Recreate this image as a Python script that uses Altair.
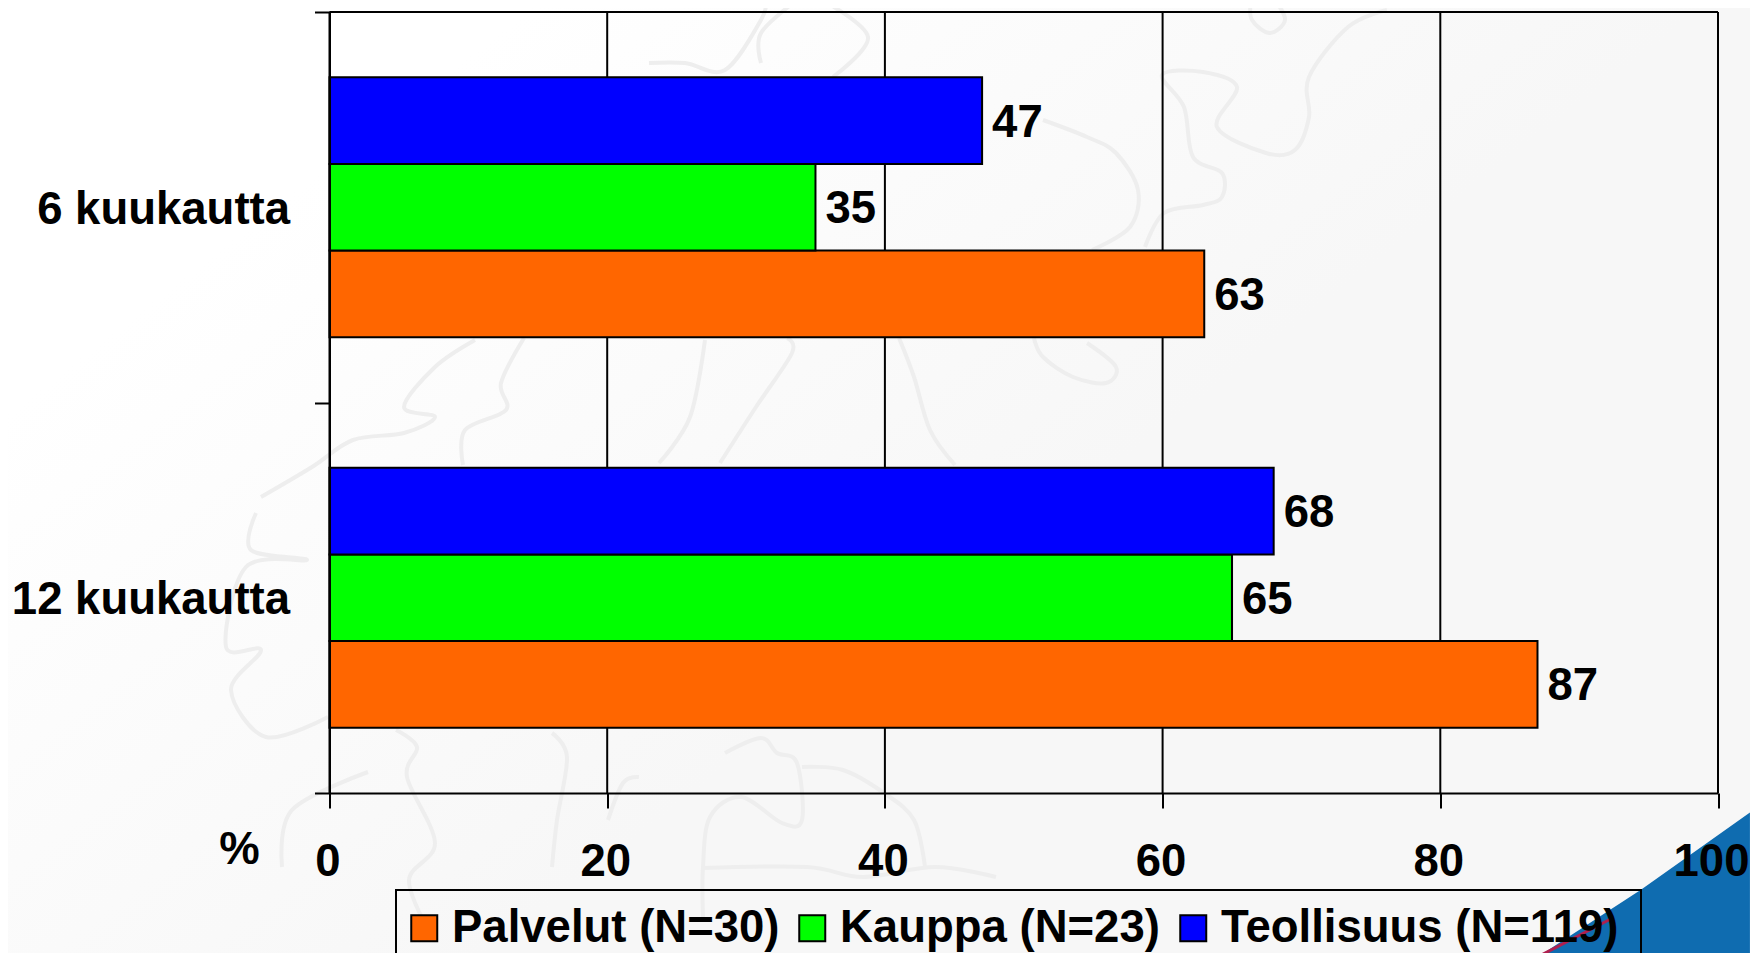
import altair as alt
import pandas as pd

periods = ["6 kuukautta", "12 kuukautta"]
series = ["Palvelut (N=30)", "Kauppa (N=23)", "Teollisuus (N=119)"]
stack_order = ["Teollisuus (N=119)", "Kauppa (N=23)", "Palvelut (N=30)"]
colors = ["#ff6600", "#00ff00", "#0000ff"]
palvelut = [63, 87]
kauppa = [35, 65]
teollisuus = [47, 68]
grid_values = [0, 20, 40, 60, 80, 100]

# decorative corner, in x-axis percent and percent of plot height (0 = top)
wedge_x = [87.0, 94.45, 102.3]
wedge_low = [121.0, 112.4, 102.5]
wedge_bottom = [122, 122, 122]
accent_x = [87.0, 92.2]
accent_y = [121.0, 116.2]

# decorative pale map outlines (image px)
map_lines = [
    [(261,497),(312,467),(353,440),(404,433),(435,417),(404,407),(435,367),(475,340)],
    [(463,465),(465,430),(506,410),(501,383),(524,338)],
    [(659,463),(690,417),(705,340)],
    [(720,463),(756,407),(792,353),(787,338)],
    [(955,465),(930,430),(914,377),(899,338)],
    [(649,63),(685,63),(725,70),(761,20),(766,0)],
    [(761,63),(761,33),(797,0)],
    [(822,0),(868,37),(833,77)],
    [(1043,120),(1087,137),(1116,153),(1138,190),(1130,227),(1092,250)],
    [(1145,247),(1164,213),(1203,205),(1222,197),(1222,173),(1193,157),(1184,107),(1162,75),
     (1203,72),(1237,87),(1217,127),(1266,153),(1295,150),(1309,117),(1309,77),(1348,27),(1387,10)],
    [(1034,338),(1043,357),(1073,377),(1106,383),(1116,367),(1087,343)],
    [(1251,0),(1252,20),(1270,33),(1285,20),(1275,0)],
    [(256,513),(251,550),(307,560),(246,567),(226,647),(261,650),(231,690),(266,737),(328,717)],
    [(396,730),(417,747),(407,777),(435,843),(409,880),(430,933)],
    [(552,733),(567,757),(557,820),(552,867)],
    [(725,753),(761,738),(777,753),(797,763),(802,820),(782,823),(741,797),(710,817),(703,867),(703,917)],
    [(703,868),(807,867),(863,877),(935,867),(996,877)],
    [(802,767),(843,770),(884,793),(914,820),(925,867)],
    [(282,867),(292,810),(368,772)],
    [(608,820),(623,783),(639,777)],
]

rows = []
for name, vals in zip(series, [palvelut, kauppa, teollisuus]):
    for p, v in zip(periods, vals):
        rows.append({"period": p, "series": name, "value": v})
df = pd.DataFrame(rows)

map_rows = []
for i, line in enumerate(map_lines):
    for j, (px, py) in enumerate(line):
        map_rows.append({"line": i, "order": j, "x": (px - 329.5) / 13.885, "y": (py - 12) / 7.81})
map_df = pd.DataFrame(map_rows)

FONT = "Liberation Sans"
SIZE = 45.5
x_scale = alt.Scale(domain=[0, 100], nice=False)
pct_y = alt.Scale(domain=[0, 100], nice=False, reverse=True)

x_axis = alt.Axis(values=grid_values, title="%", tickSize=15, tickWidth=2, tickColor="black",
                  domain=True, domainColor="black", domainWidth=2, grid=False,
                  labelFont=FONT, labelFontWeight="bold", labelFontSize=SIZE,
                  labelColor="black", labelPadding=31,
                  labelOffset=alt.expr("datum.value == 100 ? -7 : -2"),
                  labelFlush=False, zindex=1,
                  titleFont=FONT, titleFontWeight="bold", titleFontSize=SIZE,
                  titleColor="black", titleX=-90.5, titleY=56, titleAngle=0,
                  titleBaseline="middle", titleAlign="center")
y_enc = alt.Y("period:N", sort=periods, title=None,
              scale=alt.Scale(paddingInner=0, paddingOuter=0),
              axis=alt.Axis(tickBand="extent", tickSize=15, tickWidth=2, tickColor="black",
                            domain=True, domainColor="black", domainWidth=2, grid=False,
                            labelFont=FONT, labelFontWeight="bold", labelFontSize=SIZE,
                            labelColor="black", labelPadding=25, labelLimit=600, labelOffset=2, zindex=1))
yoff = alt.YOffset("series:N", sort=stack_order, scale=alt.Scale(paddingInner=0, paddingOuter=0.755))

bg = alt.Chart(pd.DataFrame({"a": [0]})).mark_rect(
    fill=alt.LinearGradient(gradient="linear", x1=0, y1=0, x2=1, y2=0.7,
                            stops=[alt.GradientStop(offset=0.2, color="#ffffff"),
                                   alt.GradientStop(offset=0.65, color="#f7f7f7")])
).encode(x=alt.value(-322), x2=alt.value(1430), y=alt.value(-4), y2=alt.value(950))

outlines = alt.Chart(map_df).mark_line(color="#eeeeee", strokeWidth=4, interpolate="cardinal").encode(
    x=alt.X("x:Q", scale=x_scale, axis=x_axis),
    y=alt.Y("y:Q", scale=pct_y, axis=None),
    detail="line:N", order="order:Q")

wedge = alt.Chart(pd.DataFrame({"x": wedge_x, "low": wedge_low, "bottom": wedge_bottom})).mark_area(
    color="#0f6cb0").encode(
    x=alt.X("x:Q", scale=x_scale, axis=x_axis),
    y=alt.Y("low:Q", scale=pct_y, axis=None),
    y2="bottom:Q")

accent = alt.Chart(pd.DataFrame({"x": accent_x, "y": accent_y})).mark_line(
    color="#b0204f", strokeWidth=3).encode(
    x=alt.X("x:Q", scale=x_scale, axis=x_axis),
    y=alt.Y("y:Q", scale=pct_y, axis=None))

grid = alt.Chart(pd.DataFrame({"value": grid_values})).mark_rule(color="black", strokeWidth=2).encode(
    x=alt.X("value:Q", scale=x_scale, axis=x_axis))
top = alt.Chart(pd.DataFrame({"a": [0], "b": [100]})).mark_rule(color="black", strokeWidth=2).encode(
    x=alt.X("a:Q", scale=x_scale, axis=x_axis), x2="b:Q", y=alt.value(0))

legend_box = alt.Chart(pd.DataFrame({"a": [0]})).mark_rect(
    fill="transparent", stroke="black", strokeWidth=2
).encode(x=alt.value(66.5), x2=alt.value(1311.5), y=alt.value(878), y2=alt.value(960))

bars = alt.Chart(df).mark_bar(stroke="black", strokeWidth=2).encode(
    x=alt.X("value:Q", scale=x_scale, axis=x_axis), y=y_enc, yOffset=yoff,
    color=alt.Color("series:N", scale=alt.Scale(domain=series, range=colors),
                    legend=alt.Legend(title=None, orient="none", legendX=72, legendY=893,
                                      direction="horizontal", columns=3, symbolType="square",
                                      symbolSize=676, symbolStrokeColor="black", symbolStrokeWidth=2,
                                      labelFont=FONT, labelFontWeight="bold", labelFontSize=SIZE,
                                      labelColor="black", labelLimit=700, labelOffset=5,
                                      columnPadding=10, padding=0,
                                      fillColor="transparent", symbolOpacity=1)))
labels = alt.Chart(df).mark_text(align="left", baseline="middle", dx=10, dy=2, font=FONT,
                                 fontWeight="bold", fontSize=SIZE, color="black").encode(
    x=alt.X("value:Q", scale=x_scale, axis=x_axis),
    y=alt.Y("period:N", sort=periods, title=None, scale=alt.Scale(paddingInner=0, paddingOuter=0)),
    yOffset=yoff, text="value:Q")

main = alt.layer(bars, labels)

chart = alt.layer(bg, outlines, wedge, accent, grid, top, legend_box, main).resolve_scale(y="independent").properties(
    width=1388.5, height=781,
    autosize=alt.AutoSizeParams(type="none"),
    padding={"left": 321.5, "top": 4, "right": 32, "bottom": 160},
    background="white",
).configure_view(stroke=None)

chart.save("out.html", embed_options={"renderer": "svg", "actions": False})
